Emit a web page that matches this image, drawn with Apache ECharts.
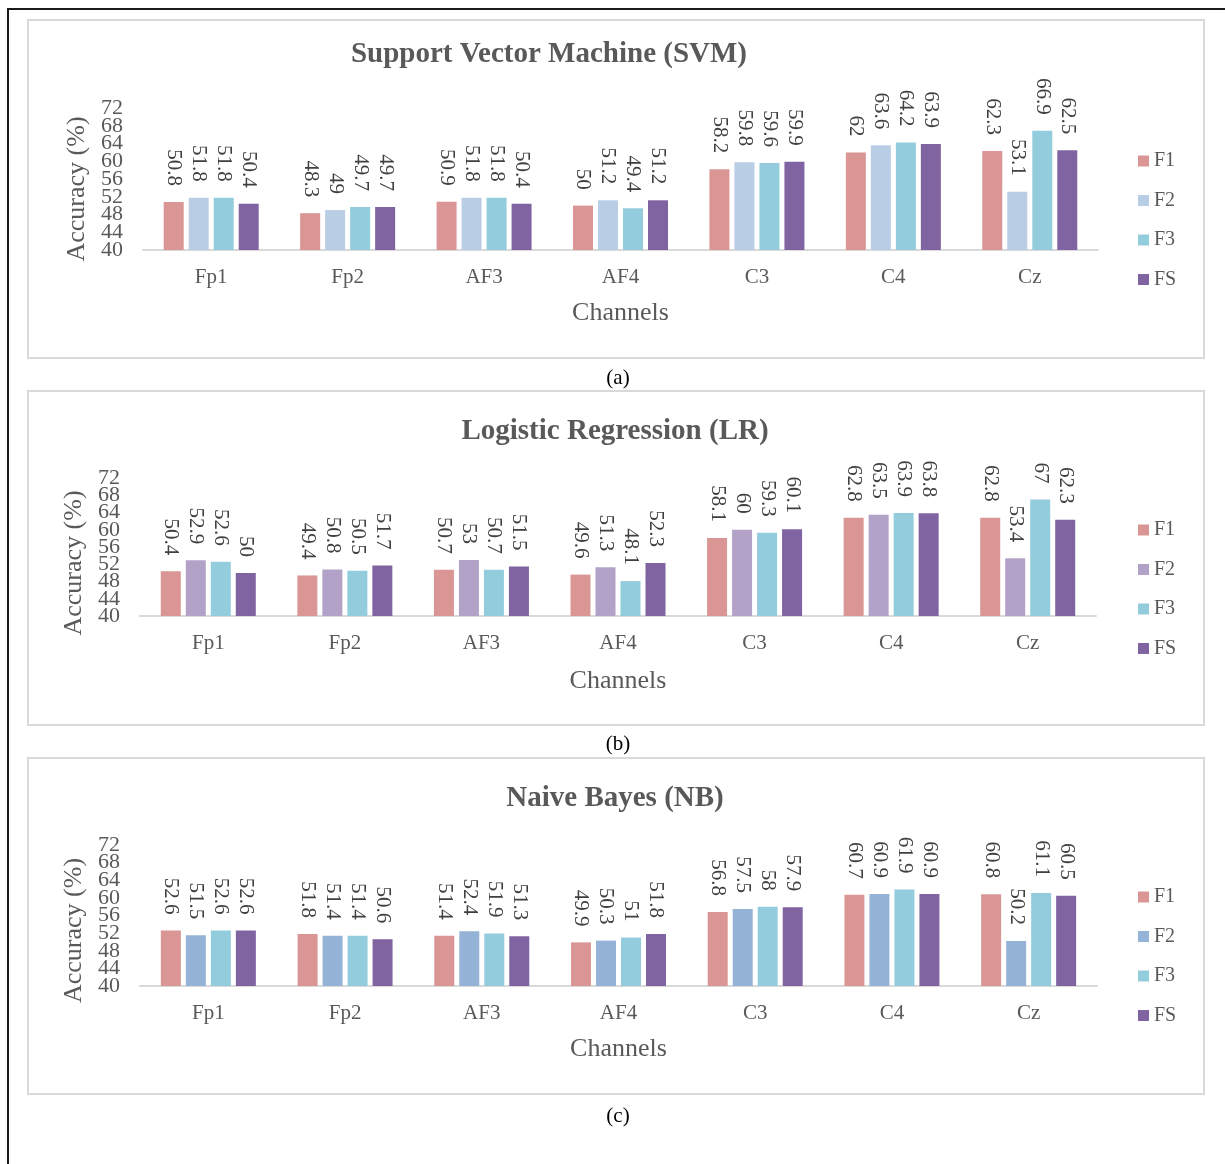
<!DOCTYPE html>
<html>
<head>
<meta charset="utf-8">
<title>Classifier accuracy per channel</title>
<script src="https://cdn.jsdelivr.net/npm/echarts@6/dist/echarts.min.js"></script>
<style>
  html, body { margin: 0; padding: 0; background: #ffffff; }
  #chart { width: 1225px; height: 1164px; }
</style>
</head>
<body>
<div id="chart"></div>
<script>
// ---- data ----
const channels = ['Fp1', 'Fp2', 'AF3', 'AF4', 'C3', 'C4', 'Cz'];
const featureSets = ['F1', 'F2', 'F3', 'FS'];
const yMin = 40, yMax = 72, yStep = 4;
const yTicks = [40, 44, 48, 52, 56, 60, 64, 68, 72];

const svmF1 = [50.8, 48.3, 50.9, 50.0, 58.2, 62.0, 62.3];
const svmF2 = [51.8, 49.0, 51.8, 51.2, 59.8, 63.6, 53.1];
const svmF3 = [51.8, 49.7, 51.8, 49.4, 59.6, 64.2, 66.9];
const svmFS = [50.4, 49.7, 50.4, 51.2, 59.9, 63.9, 62.5];

const lrF1 = [50.4, 49.4, 50.7, 49.6, 58.1, 62.8, 62.8];
const lrF2 = [52.9, 50.8, 53.0, 51.3, 60.0, 63.5, 53.4];
const lrF3 = [52.6, 50.5, 50.7, 48.1, 59.3, 63.9, 67.0];
const lrFS = [50.0, 51.7, 51.5, 52.3, 60.1, 63.8, 62.3];

const nbF1 = [52.6, 51.8, 51.4, 49.9, 56.8, 60.7, 60.8];
const nbF2 = [51.5, 51.4, 52.4, 50.3, 57.5, 60.9, 50.2];
const nbF3 = [52.6, 51.4, 51.9, 51.0, 58.0, 61.9, 61.1];
const nbFS = [52.6, 50.6, 51.3, 51.8, 57.9, 60.9, 60.5];

// ---- styling & layout ----
const FONT = "'Liberation Serif', 'Times New Roman', serif";
const GREY = '#595959';

const panels = [
  {
    title: 'Support Vector Machine (SVM)', titleX: 549, titleY: 55, caption: '(a)', captionY: 378,
    box: [28, 20, 1176, 338],
    grid: { left: 143, top: 108, width: 955, height: 142 },
    nameShift: 20, nameGapX: 50,
    legendTop: 151,
    colors: ['#D99694', '#B9CDE5', '#93CDDD', '#8064A2'],
    values: [svmF1, svmF2, svmF3, svmFS]
  },
  {
    title: 'Logistic Regression (LR)', titleX: 615, titleY: 432, caption: '(b)', captionY: 744,
    box: [28, 391, 1176, 334],
    grid: { left: 140, top: 478, width: 956, height: 138 },
    nameShift: 32, nameGapX: 52,
    legendTop: 520,
    colors: ['#D99694', '#B3A2C7', '#93CDDD', '#8064A2'],
    values: [lrF1, lrF2, lrF3, lrFS]
  },
  {
    title: 'Naive Bayes (NB)', titleX: 615, titleY: 799, caption: '(c)', captionY: 1116,
    box: [28, 758, 1176, 336],
    grid: { left: 140, top: 845, width: 957, height: 141 },
    nameShift: 30, nameGapX: 50,
    legendTop: 887,
    colors: ['#D99694', '#95B3D7', '#93CDDD', '#8064A2'],
    values: [nbF1, nbF2, nbF3, nbFS]
  }
];

// The tick labels are packed tighter than their type size, so they are split
// over two overlaid value axes with the same scale (alternate ticks on each)
// to keep the overlap hiding from dropping any of them.
const ticksEven = yTicks.filter((_, j) => j % 2 === 0);
const ticksOdd = yTicks.filter((_, j) => j % 2 === 1);

const titles = [];
const grids = [];
const xAxes = [];
const yAxes = [];
const legends = [];
const series = [];
const graphics = [
  // page frame (top and left rules)
  { type: 'line', shape: { x1: 7, y1: 9, x2: 1225, y2: 9 }, style: { stroke: '#1a1a1a', lineWidth: 2 }, z: -10 },
  { type: 'line', shape: { x1: 8, y1: 8, x2: 8, y2: 1164 }, style: { stroke: '#1a1a1a', lineWidth: 2 }, z: -10 }
];

const tickLabelStyle = { fontFamily: FONT, fontSize: 22, color: GREY, margin: 20 };

panels.forEach((p, i) => {
  graphics.push({
    type: 'rect',
    shape: { x: p.box[0], y: p.box[1], width: p.box[2], height: p.box[3] },
    style: { fill: '#ffffff', stroke: '#D9D9D9', lineWidth: 2 },
    z: -5
  });

  titles.push({
    text: p.title, left: p.titleX, top: p.titleY, padding: 0,
    textAlign: 'center', textVerticalAlign: 'middle',
    textStyle: { fontFamily: FONT, fontSize: 29, fontWeight: 'bold', color: GREY }
  });
  titles.push({
    text: p.caption, left: 618, top: p.captionY, padding: 0,
    textAlign: 'center', textVerticalAlign: 'middle',
    textStyle: { fontFamily: FONT, fontSize: 21, fontWeight: 'normal', color: '#000000' }
  });

  grids.push(Object.assign({ containLabel: false }, p.grid));

  xAxes.push({
    type: 'category', gridIndex: i, data: channels,
    name: 'Channels', nameLocation: 'middle', nameGap: p.nameGapX,
    nameTextStyle: { fontFamily: FONT, fontSize: 26, color: GREY },
    axisLine: { show: true, lineStyle: { color: '#D9D9D9', width: 2 } },
    axisTick: { show: false },
    axisLabel: { fontFamily: FONT, fontSize: 21, color: GREY, margin: 17 }
  });

  // main value axis (bars are drawn on this one)
  yAxes.push({
    type: 'value', gridIndex: i, position: 'left', min: yMin, max: yMax, interval: yStep,
    name: 'Accuracy (%)', nameLocation: 'middle', nameGap: 52,
    nameTextStyle: { fontFamily: FONT, fontSize: 26, color: GREY, padding: [0, p.nameShift, 0, 0] },
    axisLine: { show: false }, axisTick: { show: false },
    splitLine: { show: false },
    axisLabel: Object.assign({ customValues: ticksEven, showMinLabel: true, showMaxLabel: true }, tickLabelStyle)
  });
  // companion axis carrying the in-between tick labels
  yAxes.push({
    type: 'value', gridIndex: i, position: 'left', offset: 0, min: yMin, max: yMax, interval: yStep,
    axisLine: { show: false }, axisTick: { show: false },
    splitLine: { show: false },
    axisLabel: Object.assign({ customValues: ticksOdd }, tickLabelStyle)
  });

  legends.push({
    orient: 'vertical', left: 1138, top: p.legendTop, padding: 0,
    itemWidth: 11, itemHeight: 11, itemGap: 19.5, icon: 'rect',
    selectedMode: false,
    textStyle: { fontFamily: FONT, fontSize: 20, color: GREY },
    data: featureSets.map((f, k) => ({ name: f, itemStyle: { color: p.colors[k] } }))
  });

  featureSets.forEach((f, k) => {
    series.push({
      type: 'bar', name: f, xAxisIndex: i, yAxisIndex: 2 * i,
      data: p.values[k],
      barWidth: 20, barGap: '25%',
      itemStyle: { color: p.colors[k] },
      label: {
        show: true, position: 'top', distance: 16, rotate: -90,
        align: 'right', verticalAlign: 'middle',
        fontFamily: FONT, fontSize: 21, color: '#404040'
      },
      emphasis: { disabled: true }
    });
  });
});

const chart = echarts.init(document.getElementById('chart'));
chart.setOption({
  backgroundColor: '#ffffff',
  animation: false,
  title: titles,
  grid: grids,
  xAxis: xAxes,
  yAxis: yAxes,
  legend: legends,
  graphic: graphics,
  series: series
});
</script>
</body>
</html>
